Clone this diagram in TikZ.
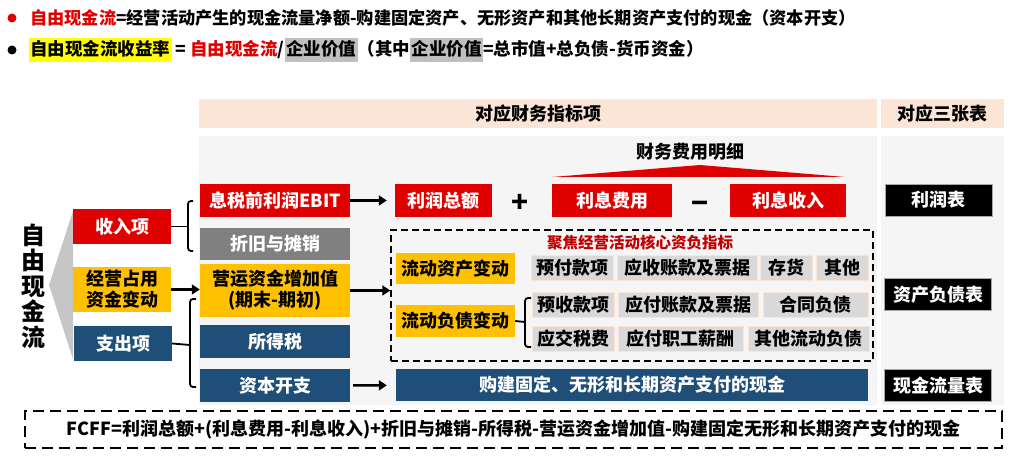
\documentclass[tikz,border=0pt]{standalone}
\usepackage{fontspec}
\setmainfont{Noto Sans CJK SC}
\usetikzlibrary{arrows.meta}
\definecolor{boxred}{RGB}{224,0,0}
\definecolor{boxyellow}{RGB}{255,192,0}
\definecolor{boxblue}{RGB}{31,78,121}
\definecolor{boxgrey}{RGB}{128,128,128}
\definecolor{lightbox}{RGB}{217,217,217}
\definecolor{panelgrey}{RGB}{245,245,245}
\definecolor{headpeach}{RGB}{251,229,214}
\definecolor{darkred}{RGB}{192,0,0}
\definecolor{wedgegrey}{RGB}{198,198,198}
\definecolor{hlyellow}{RGB}{255,255,0}
\definecolor{hlgray}{RGB}{191,191,191}
\newcommand{\markbg}[2]{{\setlength{\fboxsep}{1.5pt}\colorbox{#1}{\rule[-0.28em]{0pt}{1.25em}#2}}}

\begin{document}
\begin{tikzpicture}[x=1pt, y=-1pt,
    every node/.style={inner sep=0pt, font=\fontsize{18}{21}\selectfont\bfseries},
    redbox/.style={fill=boxred, text=white, align=center},
    yellowbox/.style={fill=boxyellow, text=black, align=center},
    bluebox/.style={fill=boxblue, text=white, align=center},
    greybox/.style={fill=boxgrey, text=white, align=center},
    itembox/.style={fill=lightbox, draw=headpeach, line width=0.8pt, text=black, minimum height=25pt},
    sheetbox/.style={fill=black, draw=gray!70, line width=0.6pt, text=white, minimum width=107pt, minimum height=32pt},
    headbar/.style={fill=headpeach, minimum height=29pt},
    panel/.style={fill=panelgrey, minimum height=269pt},
    bigarrow/.style={line width=2.5pt, -{Triangle[length=8pt,width=10pt]}},
    bracket/.style={line width=1.8pt, rounded corners=3pt},
    dashbox/.style={draw=black, line width=1.5pt, dash pattern=on 7pt off 4pt}
    ]
    \useasboundingbox (0,0) rectangle (1018,476);

    \fill[boxred]  (12,18) circle (4.5pt);
    \fill[black]   (12,50) circle (4.5pt);
    \node[anchor=base west, font=\fontsize{17.2}{21}\selectfont\bfseries] (line1) at (30,24.7)
        {{\color{boxred}自由现金流}=经营活动产生的现金流量净额-购建固定资产、无形资产和其他长期资产支付的现金（资本开支）};
    \node[anchor=base west, font=\fontsize{17.5}{21}\selectfont\bfseries] (line2) at (28.5,56)
        {\markbg{hlyellow}{自由现金流收益率} = {\color{boxred}自由现金流}/\markbg{hlgray}{企业价值}（其中\markbg{hlgray}{企业价值}=总市值+总负债-货币资金）};

    \node[headbar, minimum width=678pt] (hdA) at (538,113.5) {对应财务指标项};
    \node[headbar, minimum width=123pt] (hdB) at (942.5,113.5) {对应三张表};
    \node[panel, minimum width=678pt]   (pnA) at (538,270.5) {};
    \node[panel, minimum width=123pt]   (pnB) at (942.5,270.5) {};

    \fill[wedgegrey] (49,285) -- (73,211) -- (73,359) -- cycle;
    \node[align=center, font=\fontsize{24}{25.5}\selectfont\bfseries] (fcf) at (33,286) {自\\由\\现\\金\\流};

    \node[redbox, minimum width=98pt, minimum height=35pt]    (inc)   at (122,226.5) {收入项};
    \node[yellowbox, minimum width=98pt, minimum height=45pt] (opcap) at (122,289.5) {经营占用\\资金变动};
    \node[bluebox, minimum width=98pt, minimum height=35pt]   (expd)  at (123,343.5) {支出项};

    \node[redbox, minimum width=150pt, minimum height=33pt]    (ebit)  at (275,200.5) {息税前利润EBIT};
    \node[greybox, minimum width=150pt, minimum height=32pt]   (depam) at (275,244)   {折旧与摊销};
    \node[yellowbox, minimum width=150pt, minimum height=53pt] (wcinc) at (275,290.5) {营运资金增加值\\(期末-期初)};
    \node[bluebox, minimum width=150pt, minimum height=33pt]   (itax)  at (275,341.5) {所得税};
    \node[bluebox, minimum width=150pt, minimum height=33pt]   (capex) at (275,385.5) {资本开支};

    \node[redbox, minimum width=97pt, minimum height=33pt]  (ebt)    at (443.5,200.5) {利润总额};
    \node[font=\fontsize{28}{28}\selectfont\bfseries]       (plus)   at (520,203) {+};
    \node[redbox, minimum width=120pt, minimum height=33pt] (intexp) at (612,200.5) {利息费用};
    \node[font=\fontsize{28}{28}\selectfont\bfseries]       (minus)  at (700,207) {−};
    \node[redbox, minimum width=116pt, minimum height=33pt] (intinc) at (788,200.5) {利息收入};
    \fill[boxred] (552,177) -- (700,165) -- (845,177) -- cycle;
    \node (findet) at (690,152) {财务费用明细};

    \node[dashbox, minimum width=482pt, minimum height=131pt] (focus) at (632,295.5) {};
    \node[text=darkred, font=\fontsize{15.5}{18}\selectfont\bfseries] (focustl) at (640,243) {聚焦经营活动核心资负指标};
    \node[yellowbox, minimum width=119pt, minimum height=31pt] (cachg) at (455.5,268.5) {流动资产变动};
    \node[yellowbox, minimum width=119pt, minimum height=32pt] (clchg) at (455.5,321)   {流动负债变动};

    \node[itembox, minimum width=82pt]  (prepay) at (572,267.5) {预付款项};
    \node[itembox, minimum width=140pt] (recv)   at (687,267.5) {应收账款及票据};
    \node[itembox, minimum width=52pt]  (invt)   at (786,267.5) {存货};
    \node[itembox, minimum width=52pt]  (othA)   at (842,267.5) {其他};
    \node[itembox, minimum width=82pt]  (advrec) at (573,305)   {预收款项};
    \node[itembox, minimum width=140pt] (payb)   at (688,305)   {应付账款及票据};
    \node[itembox, minimum width=105pt] (contl)  at (815.5,305) {合同负债};
    \node[itembox, minimum width=82pt]  (taxp)   at (573,338.5) {应交税费};
    \node[itembox, minimum width=125pt] (wage)   at (680.5,338.5) {应付职工薪酬};
    \node[itembox, minimum width=121pt] (othL)   at (808.5,338.5) {其他流动负债};

    \node[bluebox, minimum width=472pt, minimum height=32pt] (capbuy) at (632,385) {购建固定、无形和长期资产支付的现金};

    \node[sheetbox] (istmt)  at (938.5,200)   {利润表};
    \node[sheetbox] (bsheet) at (938,294.5)   {资产负债表};
    \node[sheetbox] (cfstmt) at (938,385.5)   {现金流量表};

    \coordinate (incbr) at (188,226.5);
    \coordinate (expbr) at (190,345);
    \coordinate (clbr)  at (525,322);
    \draw[bracket] (inc.east) -- (incbr);
    \draw[bracket] (193,201) -- (188,201) -- (188,251) -- (193,251);
    \draw[bracket] (expd.east) -- (expbr);
    \draw[bracket] (196,299) -- (190,299) -- (190,387) -- (196,387);
    \draw[bracket] (clchg.east) -- (clbr);
    \draw[bracket] (531,298) -- (525,298) -- (525,347) -- (531,347);

    \draw[bigarrow] (opcap.east) -- (opcap.east -| wcinc.west);
    \draw[bigarrow, shorten >=8pt] (ebit) -- (ebt);
    \draw[bigarrow] (wcinc.east) -- (wcinc.east -| focus.west);
    \draw[bigarrow, shorten <=3pt, shorten >=9pt] (capex) -- (capbuy);

    \node[draw=black, line width=1.5pt, dash pattern=on 11pt off 6pt, minimum width=977pt, minimum height=37pt] (fcff) at (513.5,429.5)
        {FCFF=利润总额+(利息费用-利息收入)+折旧与摊销-所得税-营运资金增加值-购建固定无形和长期资产支付的现金};
\end{tikzpicture}
\end{document}
